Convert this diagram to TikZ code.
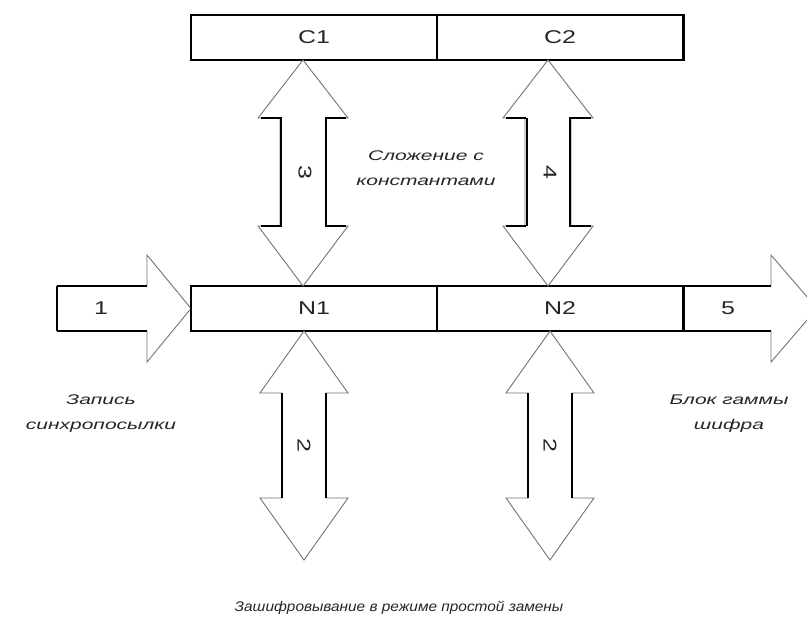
\documentclass[tikz,border=0pt]{standalone}
\usepackage{fontspec}
\setmainfont{Liberation Sans}
\newfontfamily\boxfontfam[FakeStretch=1.35]{Liberation Sans}
\newfontfamily\lblfontfam[FakeStretch=1.5]{Liberation Sans}
\newfontfamily\capfontfam[FakeStretch=1.1]{Liberation Sans}
\begin{document}
\begin{tikzpicture}[x=1pt,y=-1pt,
  box/.style={draw=black,line width=1.4pt,minimum width=246pt,minimum height=45pt,inner sep=0pt,
    font=\boxfontfam\fontsize{18.5}{20}\selectfont,text=black!85},
  arr/.style={draw=black!55,line width=0.9pt,fill=white,line join=miter},
  shaft/.style={draw=black,line width=1.3pt,line join=miter},
  thick edge/.style={draw=black,line width=2.4pt,line join=miter},
  lbl/.style={font=\lblfontfam\itshape\fontsize{14}{25}\selectfont,align=center,text=black!85,inner sep=0pt},
  num/.style={font=\boxfontfam\fontsize{18.5}{20}\selectfont,text=black!85,inner sep=0pt}]
\clip (0,0) rectangle (807,623);
\fill[white] (0,0) rectangle (807,623);

% top boxes
\node[box] (C1) at (314,37.5) {C1};
\node[box] (C2) at (560,37.5) {C2};
\draw[thick edge] (C2.north east) -- (C2.south east);

% input arrow 1
\draw[arr] (57,286) -- (147,286) -- (147,255) -- (191,308.5) -- (147,362) -- (147,331) -- (57,331);
\draw[shaft] (57,286) -- (147,286) (57,331) -- (147,331);
\draw[thick edge] (57,286) -- (57,331);
\node[num] (one) at (101,308.5) {1};

% output arrow 5
\coordinate (o1) at (683,286);
\coordinate (o2) at (683,331);
\draw[arr] (o1) -- (771,286) -- (771,255) -- (817,308.5) -- (771,362) -- (771,331) -- (o2);
\draw[shaft] (o1) -- (771,286) (o2) -- (771,331);
\node[num] (five) at (728,308.5) {5};

% main boxes
\node[box] (N1) at (314,308.5) {N1};
\node[box] (N2) at (560,308.5) {N2};
\draw[thick edge] (N2.north east) -- (N2.south east);

% double arrow 3 (C1 <-> N1)
\coordinate (t3) at (303,60);
\coordinate (b3) at (303,286);
\draw[arr] (t3) -- ++(45,58) -- ++(-22,0) -- ++(0,108) -- ++(22,0) -- (b3)
  -- ++(-45,-60) -- ++(22,0) -- ++(0,-108) -- ++(-22,0) -- cycle;
\draw[shaft] ([shift={(-42,58)}]t3) -- ++(20,0) -- ++(0,108) -- ++(-20,0)
  ([shift={(43,58)}]t3) -- ++(-20,0) -- ++(0,108) -- ++(20,0);
\node[num,rotate=-90] (three) at (305,172) {3};

% double arrow 4 (C2 <-> N2)
\coordinate (t4) at (548,60);
\coordinate (b4) at (548,286);
\draw[arr] (t4) -- ++(45,58) -- ++(-22,0) -- ++(0,108) -- ++(22,0) -- (b4)
  -- ++(-45,-60) -- ++(22,0) -- ++(0,-108) -- ++(-22,0) -- cycle;
\draw[shaft] ([shift={(-42,58)}]t4) -- ++(20,0) ([shift={(-42,166)}]t4) -- ++(20,0)
  ([shift={(43,58)}]t4) -- ++(-21,0) -- ++(0,108) -- ++(21,0);
\draw[thick edge] ([shift={(-21,58)}]t4) -- ++(0,108);
\node[num,rotate=-90] (four) at (550,172) {4};

% double arrow 2 left (N1 <-> below)
\coordinate (t2a) at (304,331);
\coordinate (b2a) at (304,560);
\draw[arr] (t2a) -- ++(44,62) -- ++(-22,0) -- ++(0,105) -- ++(22,0) -- (b2a)
  -- ++(-44,-62) -- ++(22,0) -- ++(0,-105) -- ++(-22,0) -- cycle;
\draw[shaft] ([shift={(-22,62)}]t2a) -- ++(0,105) ([shift={(22,62)}]t2a) -- ++(0,105);
\node[num,rotate=-90] (twoa) at (304,445) {2};

% double arrow 2 right (N2 <-> below)
\coordinate (t2b) at (550,331);
\coordinate (b2b) at (550,560);
\draw[arr] (t2b) -- ++(44,62) -- ++(-22,0) -- ++(0,105) -- ++(22,0) -- (b2b)
  -- ++(-44,-62) -- ++(22,0) -- ++(0,-105) -- ++(-22,0) -- cycle;
\draw[thick edge] ([shift={(-22,62)}]t2b) -- ++(0,105);
\draw[shaft] ([shift={(22,62)}]t2b) -- ++(0,105);
\node[num,rotate=-90] (twob) at (550,445) {2};

% labels
\node[lbl] (add) at (426,168) {Сложение с\\константами};
\node[lbl] (sync) at (101,414) {Запись\\синхропосылки};
\node[lbl] (gamma) at (729,414) {Блок гаммы\\шифра};
\node[lbl,font=\capfontfam\itshape\fontsize{14}{25}\selectfont] (mode) at (399,608) {Зашифровывание в режиме простой замены};
\end{tikzpicture}
\end{document}
